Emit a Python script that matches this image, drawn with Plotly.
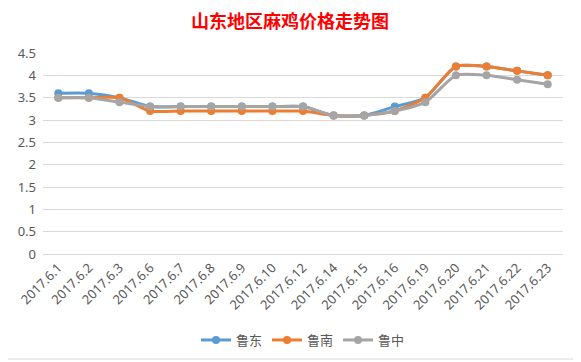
import plotly.graph_objects as go

categories = ["2017.6.1", "2017.6.2", "2017.6.3", "2017.6.6", "2017.6.7", "2017.6.8",
              "2017.6.9", "2017.6.10", "2017.6.12", "2017.6.14", "2017.6.15", "2017.6.16",
              "2017.6.19", "2017.6.20", "2017.6.21", "2017.6.22", "2017.6.23"]
ludong = [3.6, 3.6, 3.5, 3.3, 3.3, 3.3, 3.3, 3.3, 3.3, 3.1, 3.1, 3.3, 3.5, 4.2, 4.2, 4.1, 4.0]
lunan = [3.5, 3.5, 3.5, 3.2, 3.2, 3.2, 3.2, 3.2, 3.2, 3.1, 3.1, 3.2, 3.5, 4.2, 4.2, 4.1, 4.0]
luzhong = [3.5, 3.5, 3.4, 3.3, 3.3, 3.3, 3.3, 3.3, 3.3, 3.1, 3.1, 3.2, 3.4, 4.0, 4.0, 3.9, 3.8]
y_ticks = [0, 0.5, 1, 1.5, 2, 2.5, 3, 3.5, 4, 4.5]
y_tick_labels = ["0", "0.5", "1", "1.5", "2", "2.5", "3", "3.5", "4", "4.5"]

series = [("鲁东", ludong, "#5B9BD5"), ("鲁南", lunan, "#ED7D31"), ("鲁中", luzhong, "#A5A5A5")]

fig = go.Figure()
for name, vals, color in series:
    fig.add_trace(go.Scatter(
        x=categories, y=vals, name=name, mode="lines+markers",
        line=dict(color=color, width=3, shape="spline", smoothing=0.6),
        marker=dict(color=color, size=8),
    ))

# page body has an 8px margin; figure sized/offset to compensate
W, H = 573, 354
font_family = "Noto Sans, Noto Sans CJK SC, sans-serif"
fig.update_layout(
    width=W, height=H,
    margin=dict(l=35, r=18, t=45, b=108, autoexpand=False),
    paper_bgcolor="white", plot_bgcolor="white",
    font=dict(family=font_family, size=13, color="#595959"),
    title=dict(text="<b>山东地区麻鸡价格走势图</b>", x=(290 - 8) / W, xanchor="center",
               y=1 - 14 / H, yanchor="middle", yref="container",
               font=dict(family="Noto Sans CJK SC, sans-serif", size=18, color="#FF0000")),
    xaxis=dict(type="category", tickangle=-45, showgrid=False, ticks="",
               range=[-0.5, len(categories) - 0.5],
               showline=True, linecolor="#D9D9D9", linewidth=1, automargin=False,
               tickfont=dict(size=13, color="#595959")),
    yaxis=dict(range=[0, 4.5], tickvals=y_ticks, ticktext=y_tick_labels,
               showgrid=True, gridcolor="#D9D9D9", gridwidth=1, zeroline=False,
               showline=False, ticks="", ticklabelstandoff=6, automargin=False,
               tickfont=dict(size=13, color="#595959")),
    legend=dict(orientation="h", x=0.5, xanchor="center", y=-(340 - 254) / 201, yanchor="middle",
                font=dict(size=13, color="#595959"), itemwidth=30, traceorder="normal"),
    showlegend=True,
)

# chart-area border
fig.add_shape(type="rect", xref="paper", yref="paper",
              x0=-40 / 520, x1=1 + 15 / 520, y0=-105 / 201, y1=1 + 50 / 201,
              line=dict(color="#D9D9D9", width=1), fillcolor="rgba(0,0,0,0)", layer="below")

fig.write_html("out.html")
